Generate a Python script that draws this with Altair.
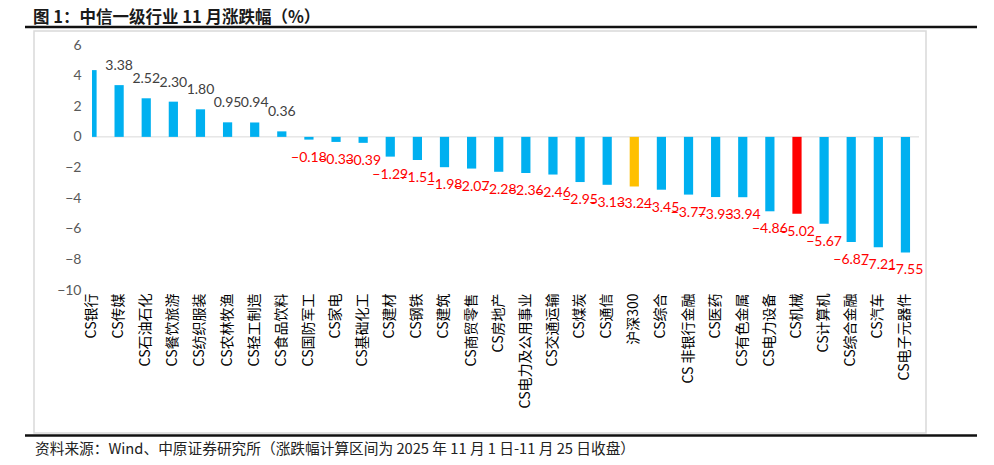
import altair as alt
import pandas as pd

industries = ["CS银行", "CS传媒", "CS石油石化", "CS餐饮旅游", "CS纺织服装", "CS农林牧渔",
              "CS轻工制造", "CS食品饮料", "CS国防军工", "CS家电", "CS基础化工", "CS建材",
              "CS钢铁", "CS建筑", "CS商贸零售", "CS房地产", "CS电力及公用事业", "CS交通运输",
              "CS煤炭", "CS通信", "沪深300", "CS综合", "CS 非银行金融", "CS医药", "CS有色金属",
              "CS电力设备", "CS机械", "CS计算机", "CS综合金融", "CS汽车", "CS电子元器件"]
changes = [4.36, 3.38, 2.52, 2.30, 1.80, 0.95, 0.94, 0.36, -0.18, -0.33, -0.39, -1.29,
           -1.51, -1.98, -2.07, -2.28, -2.36, -2.46, -2.95, -3.13, -3.24, -3.45, -3.77,
           -3.93, -3.94, -4.86, -5.02, -5.67, -6.87, -7.21, -7.55]
y_ticks = [-10, -8, -6, -4, -2, 0, 2, 4, 6]

title_text = "图 1：中信一级行业 11 月涨跌幅（%）"
source_text = "资料来源：Wind、中原证券研究所（涨跌幅计算区间为 2025 年 11 月 1 日-11 月 25 日收盘）"

df = pd.DataFrame({"name": industries, "chg": changes, "idx": list(range(len(industries)))})

W = 827
H = 245
n = len(industries)
step = W / (n - 0.5)
half = step / 2

x_axis = alt.Axis(title=None, labelAngle=-90, domain=False, ticks=False,
                  labelPadding=3, labelFontSize=14, labelFont="Noto Sans CJK SC",
                  labelColor="#000000", labelOverlap=False, labelLimit=0)
x_scale = alt.Scale(range=[-half, W], paddingInner=0.66, paddingOuter=0.33)
y_axis = alt.Axis(title=None, values=y_ticks, domain=False, ticks=False, grid=False,
                  labelPadding=11, labelFontSize=14, labelFont="Lato",
                  labelColor="#595959", labelOverlap=False, labelFlush=False)
y_scale = alt.Scale(domain=[-10, 6], nice=False, zero=False)

def X():
    return alt.X("name:N", sort=industries, scale=x_scale, axis=x_axis)

def Y(field):
    return alt.Y(field, scale=y_scale, axis=y_axis)

base = alt.Chart(df).transform_calculate(
    kind="datum.name == '沪深300' ? 'index' : (datum.name == 'CS机械' ? 'hl' : 'ind')"
)

bars = base.mark_bar(clip=True).encode(
    x=X(),
    y=Y("chg:Q"),
    color=alt.Color("kind:N", scale=alt.Scale(domain=["ind", "index", "hl"],
                                              range=["#00B0F0", "#FFC000", "#FF0000"]),
                    legend=None),
)

zero_line = alt.Chart(pd.DataFrame({"chg": [0]})).mark_rule(color="#d9d9d9", strokeWidth=1).encode(
    y=Y("chg:Q"), x=alt.value(0), x2=alt.value(W)
)

pos_labels = base.transform_filter("datum.chg > 0 && datum.idx > 0").mark_text(
    baseline="middle", dy=-19, font="Lato", fontSize=14, color="#404040"
).encode(x=X(), y=Y("chg:Q"), text=alt.Text("chg:Q", format=".2f"))

neg_labels = base.transform_filter("datum.chg < 0").mark_text(
    baseline="middle", dy=18, font="Lato", fontSize=14, color="#FF0000"
).encode(x=X(), y=Y("chg:Q"), text=alt.Text("chg:Q", format=".2f"))

one = pd.DataFrame({"a": [0]})
frame = alt.Chart(one).mark_rect(filled=False, stroke="#d9d9d9", strokeWidth=1.5).encode(
    x=alt.value(-58), x2=alt.value(834), y=alt.value(-14), y2=alt.value(388)
)
top_line = alt.Chart(one).mark_rule(color="#111111", strokeWidth=2.5).encode(
    x=alt.value(-67), x2=alt.value(885), y=alt.value(-18)
)
bottom_line = alt.Chart(one).mark_rule(color="#111111", strokeWidth=2.5).encode(
    x=alt.value(-67), x2=alt.value(885), y=alt.value(390.5)
)
title = alt.Chart(one).mark_text(align="left", baseline="middle", font="Noto Sans CJK SC",
                                 fontSize=16.5, fontWeight="bold", color="#1a1a1a").encode(
    x=alt.value(-59), y=alt.value(-27.5), text=alt.value(title_text)
)
source = alt.Chart(one).mark_text(align="left", baseline="middle", font="Noto Sans CJK SC",
                                  fontSize=14.7, color="#222222").encode(
    x=alt.value(-57), y=alt.value(405), text=alt.value(source_text)
)

chart = alt.layer(frame, zero_line, bars, pos_labels, neg_labels, top_line, bottom_line,
                  title, source).properties(
    width=W, height=H,
    autosize=alt.AutoSizeParams(type="none"),
    padding={"left": 84, "top": 37, "right": 64, "bottom": 170},
    background="#ffffff",
).configure_view(strokeWidth=0)

chart.save("out.html", embed_options={"renderer": "svg", "actions": False})
